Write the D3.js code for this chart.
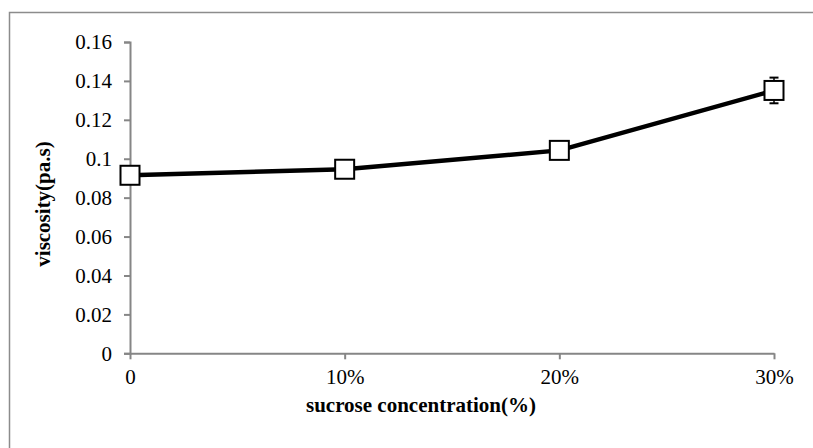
<!DOCTYPE html>
<html><head><meta charset="utf-8">
<script src="https://cdn.jsdelivr.net/npm/d3@7"></script>
<style>html,body{margin:0;padding:0;background:#fff;overflow:hidden;}svg{display:block;}</style>
</head><body>
<svg id="chart" width="813" height="448"></svg>
<script>
const categories = ["0", "10%", "20%", "30%"];
const viscosity = [0.0915, 0.0946, 0.1043, 0.1351];
const errors = [0.002, 0.002, 0.002, 0.0066];
const yTicks = [0, 0.02, 0.04, 0.06, 0.08, 0.1, 0.12, 0.14, 0.16];
const xTitle = "sucrose concentration(%)";
const yTitle = "viscosity(pa.s)";

const svg = d3.select("#chart");
const axisColor = "#868686";
const font = "'Liberation Serif','Times New Roman',serif";

// outer frame (cropped on right/bottom): only left and top edges visible
svg.append("path").attr("d", d3.line()([[9.5, 448], [9.5, 12.5], [813, 12.5]]))
  .attr("fill", "none").attr("stroke", "#8c8c8c").attr("stroke-width", 1.5);

const x = d3.scalePoint().domain(categories).range([130, 774]);
const y = d3.scaleLinear().domain([0, 0.16]).range([353.3, 42]);

const yAxis = d3.axisLeft(y).tickValues(yTicks).tickSize(6).tickPadding(12)
  .tickFormat(d => d3.format("")(+d.toFixed(2)));
const gy = svg.append("g").attr("transform", "translate(130,0)").call(yAxis);
gy.select(".domain").attr("stroke", axisColor).attr("stroke-width", 2);
gy.selectAll(".tick line").attr("stroke", axisColor).attr("stroke-width", 2);
gy.selectAll(".tick text").attr("font-family", font).attr("font-size", 21).attr("fill", "#000");

const xAxis = d3.axisBottom(x).tickSize(6).tickPadding(10).tickSizeOuter(0);
const gx = svg.append("g").attr("transform", "translate(0,353.3)").call(xAxis);
gx.select(".domain").attr("stroke", axisColor).attr("stroke-width", 2);
gx.selectAll(".tick line").attr("stroke", axisColor).attr("stroke-width", 2);
gx.selectAll(".tick text").attr("font-family", font).attr("font-size", 21).attr("fill", "#000");

// line
const line = d3.line().x((d, i) => x(categories[i])).y(d => y(d));
svg.append("path").datum(viscosity).attr("d", line).attr("fill", "none")
  .attr("stroke", "#000").attr("stroke-width", 4.5).attr("stroke-linejoin", "round");

// error bars
const eb = svg.append("g");
viscosity.forEach((v, i) => {
  const cx = x(categories[i]);
  eb.append("line").attr("x1", cx).attr("x2", cx).attr("y1", y(v + errors[i])).attr("y2", y(v - errors[i]))
    .attr("stroke", "#000").attr("stroke-width", 1.5);
  [v + errors[i], v - errors[i]].forEach(e => {
    eb.append("line").attr("x1", cx - 4.5).attr("x2", cx + 4.5).attr("y1", y(e)).attr("y2", y(e))
      .attr("stroke", "#000").attr("stroke-width", 2);
  });
});

// markers
svg.append("g").selectAll("rect").data(viscosity).join("rect")
  .attr("x", (d, i) => x(categories[i]) - 9.5).attr("y", d => y(d) - 9.5)
  .attr("width", 19).attr("height", 19)
  .attr("fill", "#fff").attr("stroke", "#000").attr("stroke-width", 2);

// titles
svg.append("text").attr("x", 421).attr("y", 412).attr("text-anchor", "middle")
  .attr("font-family", font).attr("font-size", 21).attr("font-weight", "bold").text(xTitle);
svg.append("text").attr("transform", "translate(43,204) rotate(-90)").attr("text-anchor", "middle")
  .attr("dominant-baseline", "central")
  .attr("font-family", font).attr("font-size", 21).attr("font-weight", "bold").text(yTitle);
</script>
</body></html>
